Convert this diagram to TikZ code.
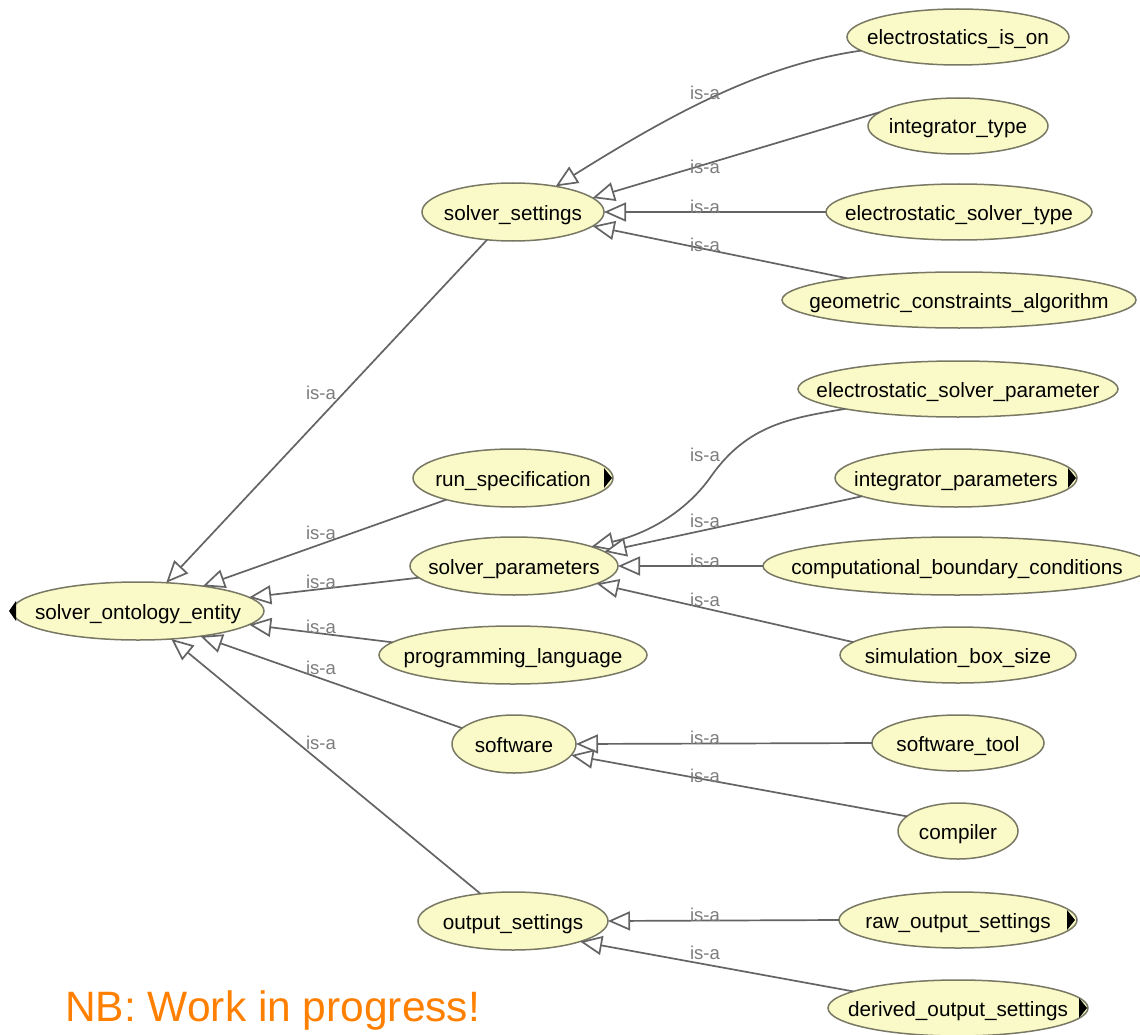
\documentclass[tikz,border=0pt]{standalone}
\usepackage{fontspec}
\setmainfont{Liberation Sans}
\usetikzlibrary{shapes.geometric,arrows.meta}

\definecolor{nodefill}{RGB}{250,250,200}
\definecolor{nodeborder}{RGB}{120,120,100}
\definecolor{edgegray}{RGB}{100,100,100}
\definecolor{labelgray}{RGB}{125,125,125}
\definecolor{notecolor}{RGB}{255,128,0}

\tikzset{
  ent/.style={ellipse, draw=nodeborder, fill=nodefill, line width=1.5pt,
    inner sep=0pt, outer sep=0pt, text height=16pt, text depth=0pt,
    font=\fontsize{20.7}{24}\selectfont, text=black},
  isa/.style={draw=edgegray, line width=1.7pt,
    -{Triangle[length=22pt, width=19pt, fill=white]}},
  isalabel/.style={font=\fontsize{18.5}{20}\selectfont, text=labelgray,
    inner sep=0pt},
  expander/.style={fill=black}
}
% ellipse label with zero-width content so the minimum size sets the shape
\newcommand{\ent}[1]{\makebox[0pt]{#1}}

\begin{document}
\begin{tikzpicture}[x=1pt, y=-1pt]
\clip (0,0) rectangle (1140,1035);
\fill[white] (0,0) rectangle (1140,1035);

% root class
\node[ent, minimum width=252pt, minimum height=58pt] (root) at (138,611) {\ent{solver\_ontology\_entity}};

% direct subclasses
\node[ent, minimum width=182pt, minimum height=58pt] (ss) at (513,212) {\ent{solver\_settings}};
\node[ent, minimum width=200pt, minimum height=58pt] (rs) at (513,478) {\ent{run\_specification}};
\node[ent, minimum width=208pt, minimum height=58pt] (sp) at (514,566) {\ent{solver\_parameters}};
\node[ent, minimum width=268pt, minimum height=58pt] (pl) at (513,655) {\ent{programming\_language}};
\node[ent, minimum width=124pt, minimum height=58pt] (sw) at (514,744) {\ent{software}};
\node[ent, minimum width=190pt, minimum height=58pt] (os) at (513,921) {\ent{output\_settings}};

% leaf classes
\node[ent, minimum width=222pt, minimum height=56pt] (eon) at (958,37) {\ent{electrostatics\_is\_on}};
\node[ent, minimum width=180pt, minimum height=56pt] (it) at (958,126) {\ent{integrator\_type}};
\node[ent, minimum width=266pt, minimum height=56pt] (est) at (959,212) {\ent{electrostatic\_solver\_type}};
\node[ent, minimum width=354pt, minimum height=56pt] (gca) at (959,300) {\ent{geometric\_constraints\_algorithm}};
\node[ent, minimum width=320pt, minimum height=56pt] (esp) at (958,389) {\ent{electrostatic\_solver\_parameter}};
\node[ent, minimum width=242pt, minimum height=58pt] (ip) at (956,478) {\ent{integrator\_parameters}};
\node[ent, minimum width=388pt, minimum height=58pt] (cbc) at (957,566) {\ent{computational\_boundary\_conditions}};
\node[ent, minimum width=236pt, minimum height=56pt] (sbs) at (958,655) {\ent{simulation\_box\_size}};
\node[ent, minimum width=172pt, minimum height=56pt] (st) at (958,743) {\ent{software\_tool}};
\node[ent, minimum width=120pt, minimum height=56pt] (cmp) at (958,831) {\ent{compiler}};
\node[ent, minimum width=238pt, minimum height=56pt] (ros) at (958,920) {\ent{raw\_output\_settings}};
\node[ent, minimum width=260pt, minimum height=56pt] (dos) at (958,1008) {\ent{derived\_output\_settings}};

% expand markers
\fill[expander] ([shift={(4,-10)}]root.west) -- ([shift={(-3,0)}]root.west) -- ([shift={(4,10)}]root.west) -- cycle;
\fill[expander] ([shift={(-9,-10)}]rs.east) -- ([shift={(-1,0)}]rs.east) -- ([shift={(-9,10)}]rs.east) -- cycle;
\fill[expander] ([shift={(-9,-10)}]ip.east) -- ([shift={(-1,0)}]ip.east) -- ([shift={(-9,10)}]ip.east) -- cycle;
\fill[expander] ([shift={(-10,-10)}]ros.east) -- ([shift={(-2,0)}]ros.east) -- ([shift={(-10,10)}]ros.east) -- cycle;
\fill[expander] ([shift={(-9,-10)}]dos.east) -- ([shift={(-1,0)}]dos.east) -- ([shift={(-9,10)}]dos.east) -- cycle;

% is-a edges into the root
\draw[isa] (ss.-133) -- (root.45);
\draw[isa] (rs.-162) -- (root.21);
\draw[isa] (sp.-173) -- (root.7);
\draw[isa] (pl.174) -- (root.-7);
\draw[isa] (sw.163) -- (root.-22);
\draw[isa] (os.140) -- (root.-40);

% is-a edges into solver_settings
\draw[isa] (eon.-172) .. controls (760,65) and (670,115) .. (ss.31);
\draw[isa] (it.170) -- (ss.10);
\draw[isa] (est.180) -- (ss.0);
\draw[isa] (gca.169) -- (ss.-10);

% is-a edges into solver_parameters
\draw[isa] (esp.-170) .. controls (790,418) and (748,425) .. (712,475)
                      .. controls (688,510) and (650,533) .. (sp.14);
\draw[isa] (ip.-169) -- (sp.9);
\draw[isa] (cbc.180) -- (sp.0);
\draw[isa] (sbs.173) -- (sp.-12);

% is-a edges into software and output_settings
\draw[isa] (st.180) -- (sw.0);
\draw[isa] (cmp.164) -- (sw.-11);
\draw[isa] (ros.180) -- (os.0);
\draw[isa] (dos.171) -- (os.-17);

% edge labels
\node[isalabel] (l1) at (321,393) {is-a};
\node[isalabel] (l2) at (321,533) {is-a};
\node[isalabel] (l3) at (321,582) {is-a};
\node[isalabel] (l4) at (321,627) {is-a};
\node[isalabel] (l5) at (321,668) {is-a};
\node[isalabel] (l6) at (321,743) {is-a};
\node[isalabel] (l7) at (705,93) {is-a};
\node[isalabel] (l8) at (705,167) {is-a};
\node[isalabel] (l9) at (705,207) {is-a};
\node[isalabel] (l10) at (705,245) {is-a};
\node[isalabel] (l11) at (705,455) {is-a};
\node[isalabel] (l12) at (705,521) {is-a};
\node[isalabel] (l13) at (705,561) {is-a};
\node[isalabel] (l14) at (705,600) {is-a};
\node[isalabel] (l15) at (705,738) {is-a};
\node[isalabel] (l16) at (705,776) {is-a};
\node[isalabel] (l17) at (705,915) {is-a};
\node[isalabel] (l18) at (705,953) {is-a};

% note
\node[anchor=base west, inner sep=0pt, text=notecolor, font=\fontsize{42.5}{48}\selectfont] (note) at (65,1021) {NB: Work in progress!};
\end{tikzpicture}
\end{document}
